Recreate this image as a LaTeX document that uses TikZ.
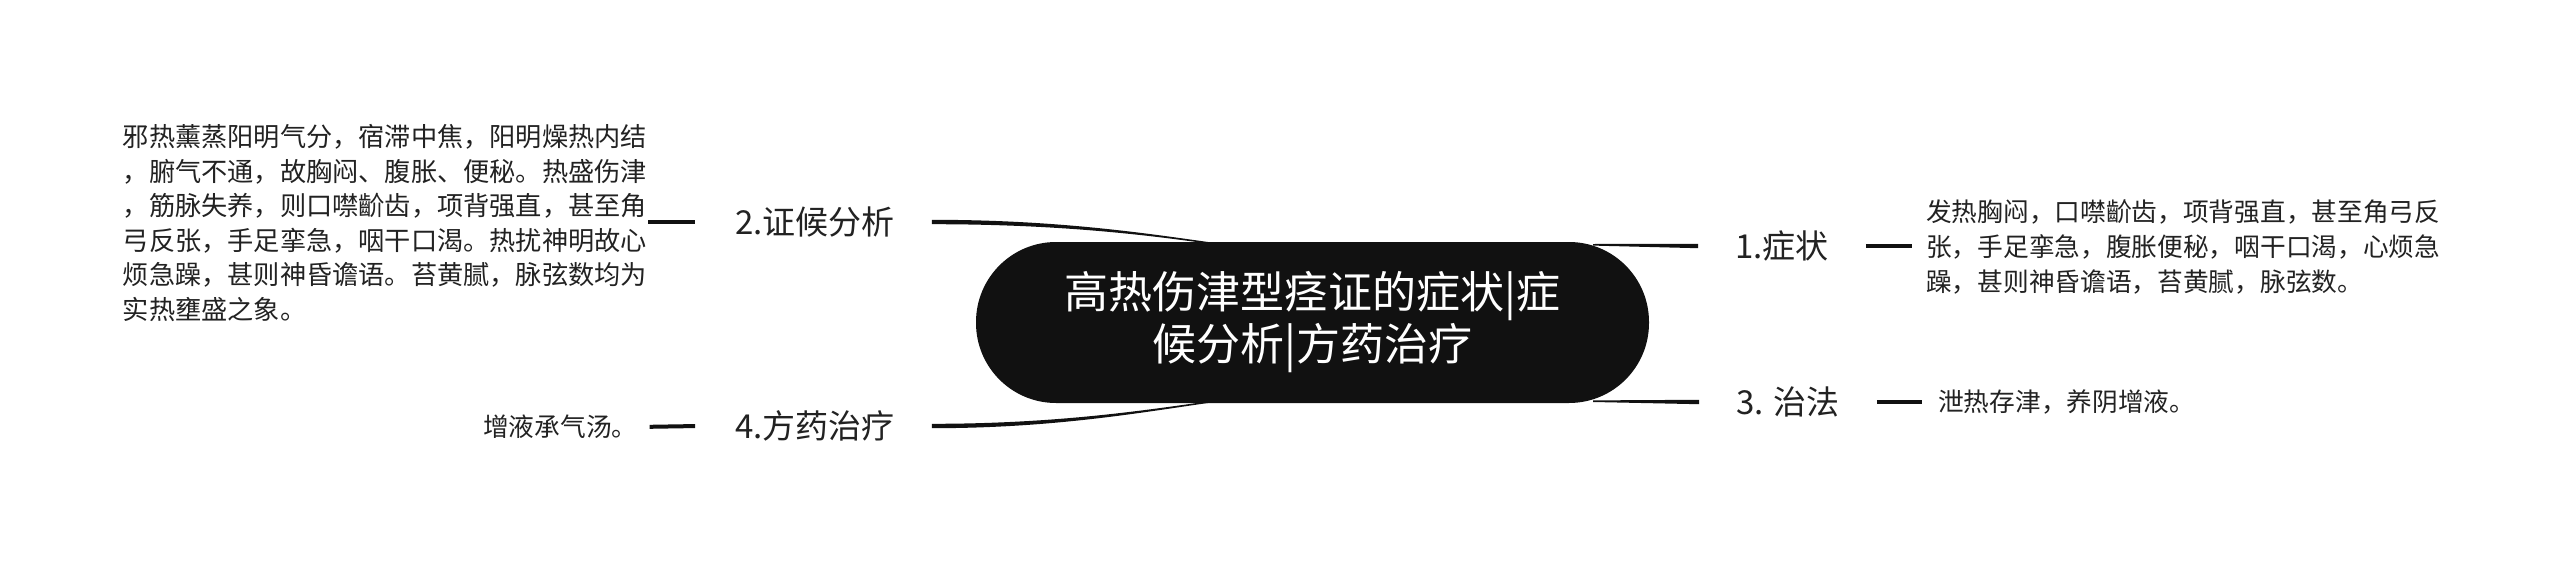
\documentclass[tikz,border=0pt]{standalone}
\usepackage{fontspec}
\setmainfont{Noto Sans CJK SC}
\usetikzlibrary{calc}
\definecolor{ink}{HTML}{222222}
\definecolor{pill}{HTML}{111111}
\begin{document}
\begin{tikzpicture}[x=1pt,y=-1pt,
  branch/.style={font=\fontsize{33}{40}\selectfont, text=ink, inner ysep=4pt, inner xsep=37pt},
  leaf/.style={font=\fontsize{25.7}{34.6}\selectfont, text=ink, align=left, inner sep=0pt},
  taper/.style={fill=pill},
  stub/.style={draw=pill, line width=4pt}]
\useasboundingbox[fill=white] (0,0) rectangle (2560,573);

\node[fill=pill, rounded corners=80pt, minimum width=673pt, minimum height=161pt,
      text=white, align=center, font=\fontsize{44}{52}\selectfont, inner sep=0pt]
      (c) at (1312.5,322.5) {高热伤津型痉证的症状|症\\候分析|方药治疗};

\coordinate (p1) at ($(c.north east)+(-56,3)$);
\coordinate (p3) at ($(c.south east)+(-56,-2)$);
\coordinate (p2) at ($(c.north west)+(232,1)$);
\coordinate (p4) at ($(c.south west)+(232,-1)$);

\node[branch] (n2) at (815,222) {2.证候分析};
\node[branch] (n4) at (815,426) {4.方药治疗};
\node[branch] (n1) at (1782,246) {1.症状};
\node[branch] (n3) at (1788,402) {3. 治法};

\node[leaf, anchor=east, font=\fontsize{26.2}{34.6}\selectfont] (t2) at (647,223) {邪热薰蒸阳明气分，宿滞中焦，阳明燥热内结\\，腑气不通，故胸闷、腹胀、便秘。热盛伤津\\，筋脉失养，则口噤齘齿，项背强直，甚至角\\弓反张，手足挛急，咽干口渴。热扰神明故心\\烦急躁，甚则神昏谵语。苔黄腻，脉弦数均为\\实热壅盛之象。};
\node[leaf, anchor=west] (t4) at (483,427) {增液承气汤。};
\node[leaf, anchor=west] (t1) at (1926,247) {发热胸闷，口噤齘齿，项背强直，甚至角弓反\\张，手足挛急，腹胀便秘，咽干口渴，心烦急\\躁，甚则神昏谵语，苔黄腻，脉弦数。};
\node[leaf, anchor=west] (t3) at (1938,402) {泄热存津，养阴增液。};

% tapered connectors: thick at the branch node, thin at the centre
\fill[taper] ([yshift=2.2pt]n2.east) .. controls +(120,0) and +(-70,-10) .. ([yshift=0.8pt]p2)
   -- ([yshift=-0.8pt]p2) .. controls +(-70,-10) and +(120,0) .. ([yshift=-2.2pt]n2.east) -- cycle;
\fill[taper] ([yshift=2.2pt]n4.east) .. controls +(120,0) and +(-70,10) .. ([yshift=0.8pt]p4)
   -- ([yshift=-0.8pt]p4) .. controls +(-70,10) and +(120,0) .. ([yshift=-2.2pt]n4.east) -- cycle;
\fill[taper] ([yshift=0.8pt]p1) -- ([yshift=2.2pt]n1.west) -- ([yshift=-2.2pt]n1.west) -- ([yshift=-0.8pt]p1) -- cycle;
\fill[taper] ([yshift=0.8pt]p3) -- ([yshift=2.2pt]n3.west) -- ([yshift=-2.2pt]n3.west) -- ([yshift=-0.8pt]p3) -- cycle;

\draw[stub, shorten <=1pt, shorten >=3pt] (t2.east |- n2.west) -- (n2.west);
\draw[stub, shorten <=12pt, shorten >=3pt] (t4.east) -- (n4.west);
\draw[stub, shorten >=14pt] (n1.east) -- (t1.west |- n1.east);
\draw[stub, shorten >=16pt] (n3.east) -- (t3.west);
\end{tikzpicture}
\end{document}
